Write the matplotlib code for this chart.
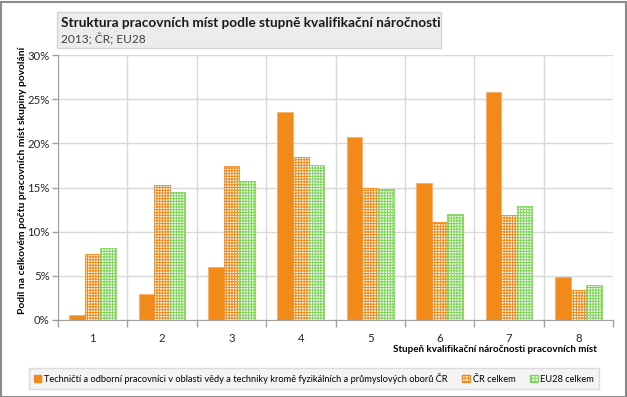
#!/usr/bin/env python3
"""
Struktura pracovnich mist podle stupne kvalifikacni narocnosti - grouped bars
"""

import numpy as np
import matplotlib
matplotlib.use('Agg')
import matplotlib.pyplot as plt
from matplotlib.patches import Rectangle, Patch
from matplotlib.ticker import FixedLocator, PercentFormatter

# data (percent)
categories = ['1', '2', '3', '4', '5', '6', '7', '8']
tech_values = [0.55, 3.0, 5.95, 23.5, 20.7, 15.5, 25.8, 4.85]
cr_values = [7.45, 15.3, 17.4, 18.45, 14.9, 11.05, 11.85, 3.45]
eu_values = [8.1, 14.5, 15.7, 17.6, 14.8, 12.05, 12.95, 4.0]

series_names = [
    'Techničtí a odborní pracovníci v oblasti vědy a techniky kromě fyzikálních a průmyslových oborů ČR',
    'ČR celkem',
    'EU28 celkem',
]
y_ticks = [0, 5, 10, 15, 20, 25, 30]

orange = '#f28a1a'
green = '#7fd65a'

plt.rcParams['font.family'] = ['Lato', 'DejaVu Sans']
plt.rcParams['hatch.linewidth'] = 0.75

W, H = 627, 397
fig = plt.figure(figsize=(W / 100, H / 100), dpi=100)

# outer frame of the chart
fig.patches.append(Rectangle((0.5 / W, 0.5 / H), 1 - 2 / W, 1 - 2 / H, transform=fig.transFigure,
                             fill=False, edgecolor='#8a8a8a', linewidth=1.5))

# title box
fig.patches.append(Rectangle((57 / W, 1 - 48 / H), (441 - 57) / W, 36 / H, transform=fig.transFigure,
                             facecolor='#ececec', edgecolor='#d4d4d4', linewidth=1.0))
fig.text(61 / W, 1 - 23 / H, 'Struktura pracovních míst podle stupně kvalifikační náročnosti',
         fontsize=9.8, fontweight='bold', va='center', ha='left', color='#1a1a1a')
fig.text(61 / W, 1 - 39 / H, '2013; ČR; EU28', fontsize=8.6, va='center', ha='left', color='#404040')

ax = fig.add_axes([58 / W, 1 - 320 / H, (613 - 58) / W, (320 - 55) / H])

x = np.arange(len(categories))
bw = 0.225
ax.bar(x - bw, tech_values, bw, color=orange, edgecolor='#f6b06a', linewidth=0.6, zorder=3)
ax.bar(x, cr_values, bw, facecolor='white', edgecolor=orange, hatch='+' * 6, linewidth=0.6, zorder=3)
ax.bar(x + bw, eu_values, bw, facecolor='white', edgecolor=green, hatch='+' * 6, linewidth=0.6, zorder=3)

ax.set_xlim(-0.5, len(categories) - 0.5)
ax.set_ylim(0, 30)
ax.yaxis.set_major_locator(FixedLocator(y_ticks))
ax.yaxis.set_major_formatter(PercentFormatter(decimals=0))
ax.set_xticks(x)
ax.set_xticklabels(categories)
ax.set_xticks(np.arange(len(categories) + 1) - 0.5, minor=True)

ax.tick_params(axis='x', which='major', length=0, pad=9, labelsize=8.2, colors='#262626')
ax.tick_params(axis='x', which='minor', length=5, width=1, color='#a0a0a0')
ax.tick_params(axis='y', length=4, width=1, color='#a0a0a0', labelsize=8.2, labelcolor='#262626', pad=2)

ax.grid(True, axis='y', which='major', color='#d9d9d9', linewidth=1.0, zorder=0)
ax.grid(True, axis='x', which='minor', color='#d9d9d9', linewidth=1.0, zorder=0)
ax.grid(False, axis='x', which='major')
ax.set_axisbelow(True)

for side in ['top', 'right']:
    ax.spines[side].set_visible(False)
ax.spines['left'].set_color('#a0a0a0')
ax.spines['bottom'].set_color('#a0a0a0')

ax.set_ylabel('Podíl na celkovém počtu pracovních míst skupiny povolání', fontsize=7.4,
              fontweight='bold')
ax.yaxis.set_label_coords(-0.055, 0.528)
fig.text(597 / W, 1 - 350 / H, 'Stupeň kvalifikační náročnosti pracovních míst', fontsize=7.1,
         fontweight='bold', ha='right', va='center')

handles = [
    Patch(facecolor=orange, edgecolor=orange),
    Patch(facecolor='white', edgecolor=orange, hatch='+' * 5),
    Patch(facecolor='white', edgecolor=green, hatch='+' * 5),
]
leg = fig.legend(handles, series_names, loc='center', bbox_to_anchor=(314 / W, 1 - 378.5 / H), ncol=3,
                 fontsize=6.7, frameon=True, fancybox=False, handlelength=0.8, handleheight=0.8,
                 handletextpad=0.3, columnspacing=1.6, borderpad=0.5)
leg.get_frame().set_facecolor('#f2f2f2')
leg.get_frame().set_edgecolor('#d4d4d4')
leg.get_frame().set_linewidth(1.0)

fig.savefig('out.png', dpi=100)
plt.close(fig)
